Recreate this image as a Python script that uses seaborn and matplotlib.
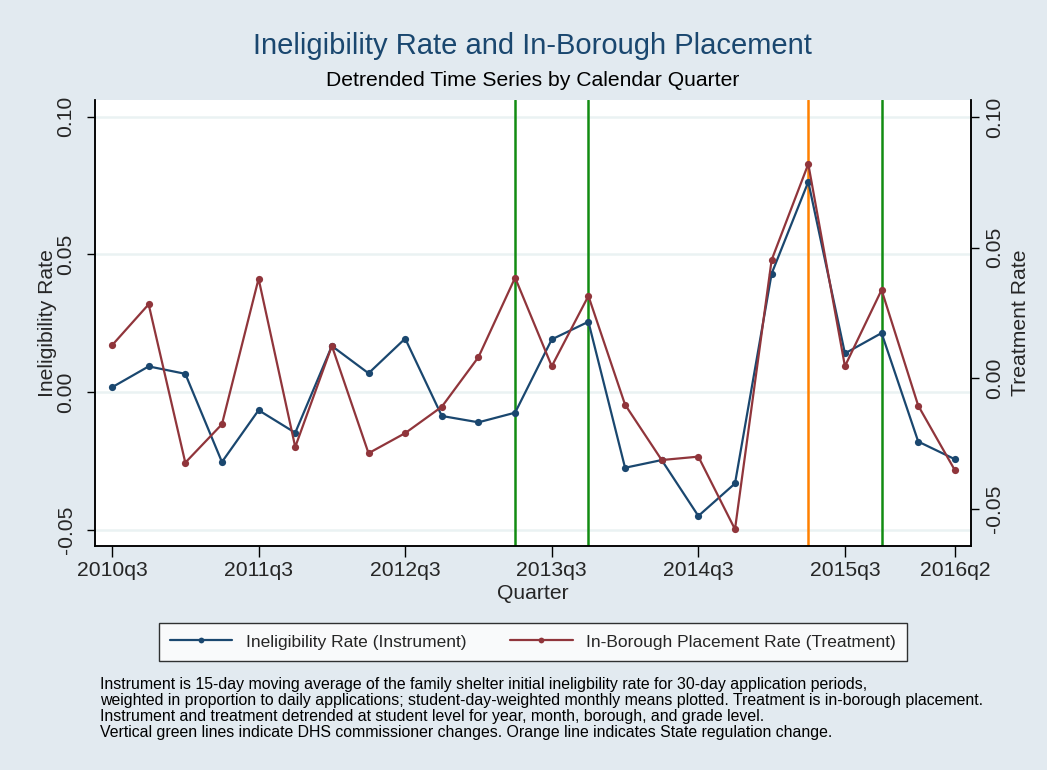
import numpy as np
import pandas as pd
import matplotlib
matplotlib.use("Agg")
import matplotlib.pyplot as plt
import seaborn as sns

# ---- data ----
quarters = ["2010q3", "2010q4", "2011q1", "2011q2", "2011q3", "2011q4", "2012q1", "2012q2",
            "2012q3", "2012q4", "2013q1", "2013q2", "2013q3", "2013q4", "2014q1", "2014q2",
            "2014q3", "2014q4", "2015q1", "2015q2", "2015q3", "2015q4", "2016q1", "2016q2"]
inelig = [0.0017, 0.0093, 0.0066, -0.0254, -0.0066, -0.0148, 0.0167, 0.0068,
          0.0194, -0.0087, -0.0110, -0.0075, 0.0191, 0.0255, -0.0275, -0.0247,
          -0.0450, -0.0332, 0.0430, 0.0763, 0.0140, 0.0214, -0.0180, -0.0244]
treat = [0.0126, 0.0283, -0.0323, -0.0176, 0.0381, -0.0263, 0.0124, -0.0287,
         -0.0210, -0.0109, 0.0081, 0.0385, 0.0046, 0.0315, -0.0101, -0.0313,
         -0.0300, -0.0578, 0.0453, 0.0820, 0.0046, 0.0338, -0.0105, -0.0352]
xtick_labels = ["2010q3", "2011q3", "2012q3", "2013q3", "2014q3", "2015q3", "2016q2"]
green_events = ["2013q2", "2013q4", "2015q4"]
orange_events = ["2015q2"]
yticks = [-0.05, 0.0, 0.05, 0.10]

df = pd.DataFrame({"q": np.arange(len(quarters)), "quarter": quarters,
                   "inelig": inelig, "treat": treat})
qpos = {q: i for i, q in enumerate(quarters)}

BG = "#E2EAF0"
GRID = "#EAF2F3"
NAVY = "#1A476F"
MAROON = "#90353B"
GREEN = "#128C12"
ORANGE = "#FF8000"

sns.set_theme(style="white")
plt.rcParams["font.family"] = ["Liberation Sans", "DejaVu Sans"]

fig = plt.figure(figsize=(10.47, 7.70), dpi=100, facecolor=BG)
ax = fig.add_axes([95 / 1047, 1 - 546 / 770, (971 - 95) / 1047, (546 - 100) / 770])
ax.set_facecolor("white")
ax2 = ax.twinx()

for yv in yticks:
    ax.axhline(yv, color=GRID, lw=1.8, zorder=0)

for q in green_events:
    ax.axvline(qpos[q], color=GREEN, lw=1.8, zorder=1)
for q in orange_events:
    ax.axvline(qpos[q], color=ORANGE, lw=1.8, zorder=1)

sns.lineplot(data=df, x="q", y="inelig", ax=ax, color=NAVY, lw=1.6, marker="o",
             markersize=5.2, markeredgewidth=0, label="Ineligibility Rate (Instrument)",
             legend=False, zorder=3)
sns.lineplot(data=df, x="q", y="treat", ax=ax2, color=MAROON, lw=1.6, marker="o",
             markersize=5.2, markeredgewidth=0, label="In-Borough Placement Rate (Treatment)",
             legend=False, zorder=3)

ax.set_xlim(-0.464, 23.44)
ax.set_ylim(-0.0559, 0.1060)
ax2.set_ylim(-0.0642, 0.1065)

FS = 15.2
ax.set_xticks([qpos[q] for q in xtick_labels])
ax.set_xticklabels(xtick_labels, fontsize=FS)
ax.set_yticks(yticks)
ax.set_yticklabels([f"{v:.2f}" for v in yticks], fontsize=FS, rotation=90, va="center")
ax2.set_yticks(yticks)
ax2.set_yticklabels([f"{v:.2f}" for v in yticks], fontsize=FS, rotation=90, va="center")

ax.tick_params(axis="x", direction="out", length=8, width=1, color="black", pad=3, bottom=True)
ax.tick_params(axis="y", direction="out", length=6, width=1, color="black", pad=8, left=True)
ax2.tick_params(axis="y", direction="out", length=6, width=1, color="black", pad=4, right=True)

ax.set_xlabel("Quarter", fontsize=FS, labelpad=3)
ax.set_ylabel("Ineligibility Rate", fontsize=FS, labelpad=0)
ax2.set_ylabel("Treatment Rate", fontsize=FS, labelpad=5)

for a in (ax, ax2):
    a.spines["top"].set_visible(False)
    for s in ("left", "right", "bottom"):
        a.spines[s].set_color("black")
        a.spines[s].set_linewidth(1.1)
ax2.set_zorder(ax.get_zorder() + 1)
ax2.patch.set_visible(False)

fig.text(0.509, 1 - 46 / 770, "Ineligibility Rate and In-Borough Placement", ha="center", va="center",
         fontsize=21, color=NAVY)
fig.text(0.509, 1 - 81 / 770, "Detrended Time Series by Calendar Quarter", ha="center", va="center",
         fontsize=15.2, color="black")

h1, l1 = ax.get_legend_handles_labels()
h2, l2 = ax2.get_legend_handles_labels()
leg = fig.legend(h1 + h2, l1 + l2, ncol=2, loc="center", bbox_to_anchor=(533 / 1047, 1 - 642 / 770),
                 frameon=True, fancybox=False, edgecolor="black", facecolor="white",
                 prop={"size": 12.5}, handlelength=3.6, columnspacing=2.5,
                 borderpad=0.65, borderaxespad=0.5, handletextpad=0.8, numpoints=1, markerscale=0.8)
leg.get_frame().set_linewidth(1.0)

note = ("Instrument is 15-day moving average of the family shelter initial ineligbility rate for 30-day application periods,\n"
        "weighted in proportion to daily applications; student-day-weighted monthly means plotted. Treatment is in-borough placement.\n"
        "Instrument and treatment detrended at student level for year, month, borough, and grade level.\n"
        "Vertical green lines indicate DHS commissioner changes. Orange line indicates State regulation change.")
fig.text(100 / 1047, 1 - 677 / 770, note, ha="left", va="top", fontsize=11.4,
         linespacing=1.07, color="black")

fig.savefig("out.png", dpi=100, facecolor=BG)
